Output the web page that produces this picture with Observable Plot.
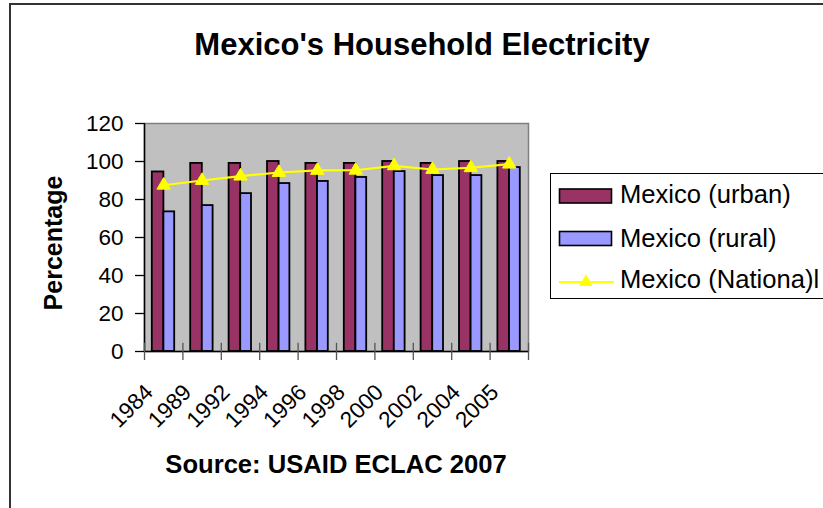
<!DOCTYPE html>
<html>
<head>
<meta charset="utf-8">
<script src="https://cdn.jsdelivr.net/npm/d3@7"></script>
<script src="https://cdn.jsdelivr.net/npm/@observablehq/plot@0.6"></script>
<style>
  html, body { margin: 0; padding: 0; background: #fff; }
  #chart { position: relative; width: 823px; height: 508px; overflow: hidden; background: #fff; }
  #chart > svg { position: absolute; left: 0; top: 0; }
  #border { position: absolute; left: 9px; top: 3px; width: 900px; height: 600px;
            border-left: 2px solid #333; border-top: 2px solid #333; }
</style>
</head>
<body>
<div id="chart"><div id="border"></div></div>
<script>
// Household electricity coverage in Mexico (%), by year
const years = ["1984", "1989", "1992", "1994", "1996", "1998", "2000", "2002", "2004", "2005"];
const urban = [94.5, 99, 99, 100, 99, 99, 100, 99, 100, 100];
const rural = [73.5, 76.8, 83.1, 88.4, 89.5, 91.6, 94.7, 92.6, 92.6, 96.8];
const national = [87.5, 90, 92.3, 94.2, 95.3, 95.4, 97.7, 95.8, 96.7, 98.6];
const yTicks = [0, 20, 40, 60, 80, 100, 120];

const seriesNames = ["Mexico (urban)", "Mexico (rural)", "Mexico (Nationa)l"];
const colors = {urban: "#993366", rural: "#9999ff", national: "#ffff00"};

const rows = years.map((year, i) => ({i, year, urban: urban[i], rural: rural[i], national: national[i]}));
const boundaries = d3.range(years.length + 1);

const font = "'Liberation Sans', Arial, Helvetica, sans-serif";

const plot = Plot.plot({
  width: 823,
  height: 508,
  marginLeft: 144,
  marginRight: 295,
  marginTop: 123,
  marginBottom: 157,
  style: {fontFamily: font, fontSize: "22.5px", color: "#000", background: "transparent", overflow: "visible"},
  x: {type: "linear", domain: [0, years.length], axis: null, label: null},
  y: {domain: [0, 120], axis: null, label: null},
  marks: [
    Plot.frame({fill: "#c0c0c0", stroke: "#808080", strokeWidth: 1.5}),
    // grouped bars inside each year's slot
    Plot.rectY(rows, {x1: "i", x2: d => d.i + 1, y: "urban", insetLeft: 7.8, insetRight: 19,
      fill: colors.urban, stroke: "#000", strokeWidth: 1.8}),
    Plot.rectY(rows, {x1: "i", x2: d => d.i + 1, y: "rural", insetLeft: 19.4, insetRight: 8.2,
      fill: colors.rural, stroke: "#000", strokeWidth: 1.8}),
    // national average line with triangle markers
    Plot.line(rows, {x: d => d.i + 0.5, y: "national", stroke: colors.national, strokeWidth: 2.2}),
    Plot.dot(rows, {x: d => d.i + 0.5, y: "national", symbol: "triangle", r: 5,
      fill: colors.national, stroke: colors.national, strokeWidth: 1}),
    // axis lines
    Plot.ruleX([0], {stroke: "#000", strokeWidth: 1.5}),
    Plot.ruleY([0], {stroke: "#000", strokeWidth: 1.5}),
    // category separators, crossing the axis
    Plot.ruleX(boundaries, {x: d => d, y1: 0, y2: 4.3, stroke: "#555", strokeWidth: 1.3}),
    Plot.axisX({ticks: boundaries, tickSize: 9, tickFormat: () => "", label: null,
      stroke: "#555", strokeWidth: 1.3}),
    // slanted year labels under each category
    Plot.text(rows, {x: d => d.i + 0.5, y: () => 0, text: "year", rotate: -45,
      textAnchor: "end", lineAnchor: "middle", dx: -14.5, dy: 37,
      fontSize: 22.5, fill: "#000"}),
    Plot.axisY({ticks: yTicks, tickSize: 9, tickPadding: 12, tickFormat: d => String(d), label: null,
      fontSize: 22.5, stroke: "#000", strokeWidth: 1.3, fill: "#000"})
  ]
});
document.getElementById("chart").appendChild(plot);

// Title, axis title, source line and legend
const svg = d3.select("#chart").append("svg")
  .attr("width", 823).attr("height", 508)
  .style("font-family", font);

svg.append("text").attr("x", 422).attr("y", 55).attr("text-anchor", "middle")
  .attr("font-size", 31).attr("font-weight", "bold").text("Mexico's Household Electricity");

svg.append("text").attr("transform", "translate(62,243) rotate(-90)").attr("text-anchor", "middle")
  .attr("font-size", 25).attr("font-weight", "bold").text("Percentage");

svg.append("text").attr("x", 336).attr("y", 473).attr("text-anchor", "middle")
  .attr("font-size", 25.6).attr("font-weight", "bold").text("Source: USAID ECLAC 2007");

const legend = svg.append("g");
legend.append("rect").attr("x", 550.5).attr("y", 173.5).attr("width", 320).attr("height", 125)
  .attr("fill", "#fff").attr("stroke", "#000").attr("stroke-width", 1);
legend.append("rect").attr("x", 559.5).attr("y", 189).attr("width", 52).attr("height", 14)
  .attr("fill", colors.urban).attr("stroke", "#000").attr("stroke-width", 1.6);
legend.append("rect").attr("x", 559.5).attr("y", 231.5).attr("width", 52).attr("height", 14)
  .attr("fill", colors.rural).attr("stroke", "#000").attr("stroke-width", 1.6);
legend.append("line").attr("x1", 559).attr("x2", 614).attr("y1", 282).attr("y2", 282)
  .attr("stroke", colors.national).attr("stroke-width", 2);
legend.append("path").attr("transform", "translate(586,282)")
  .attr("d", d3.symbol(d3.symbolTriangle, 80)()).attr("fill", colors.national);
const baselines = [203.3, 246.6, 288.3];
seriesNames.forEach((name, k) => {
  legend.append("text").attr("x", 620).attr("y", baselines[k])
    .attr("font-size", 25.6).text(name);
});
</script>
</body>
</html>
